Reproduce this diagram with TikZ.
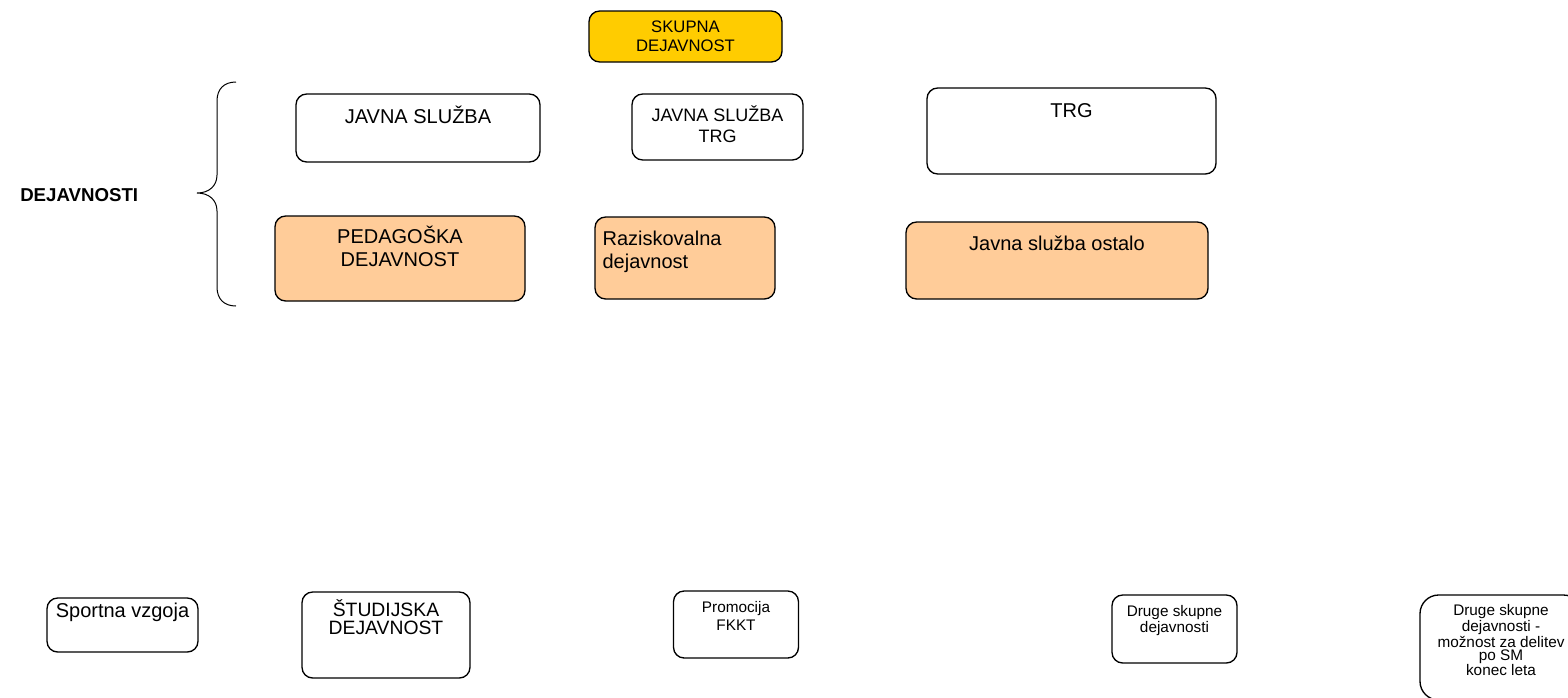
\documentclass[tikz,border=0pt]{standalone}
\usepackage{fontspec}
\setmainfont{Liberation Sans}
\usetikzlibrary{positioning}
\definecolor{skyellow}{HTML}{FFCC00}
\definecolor{pedorange}{HTML}{FFCC99}

\begin{document}
\begin{tikzpicture}[x=0.75pt,y=-0.75pt,
  box/.style={draw,rounded corners=8pt,line width=1pt,inner sep=0pt},
  pedbox/.style={box,fill=pedorange},
  txt/.style={inner sep=0pt,align=center,font=\fontsize{15}{17.25}\selectfont},
  smalltxt/.style={inner sep=0pt,align=center,font=\fontsize{11.5}{12}\selectfont}]
\clip (0,0) rectangle (1568,697);

% Nodes
\node[box,fill=skyellow,minimum width=144.75pt,minimum height=38.25pt,align=center,font=\fontsize{12.5}{14}\selectfont] (sk) at (685.5,36.5) {SKUPNA\\DEJAVNOST};

\node[box,minimum width=183pt,minimum height=51pt] (js) at (418,128) {};
\node[txt,below=9.5pt of js.north] (jstext) {JAVNA SLUŽBA};
\node[box,minimum width=128.25pt,minimum height=49.5pt] (jstrg) at (717.5,127) {};
\node[txt,below=9pt of jstrg.north,font=\fontsize{13.5}{15.5}\selectfont] (jstrgtext) {JAVNA SLUŽBA\\TRG};
\node[box,minimum width=216.75pt,minimum height=64.5pt] (trg) at (1071.5,131) {};
\node[txt,below=12pt of trg.north] (trgtext) {TRG};

\node[pedbox,minimum width=187.5pt,minimum height=63.75pt] (ped) at (400,258.5) {};
\node[txt,below=8pt of ped.north] (pedtext) {PEDAGOŠKA\\DEJAVNOST};
\node[pedbox,minimum width=135pt,minimum height=61.5pt] (raz) at (685,258) {};
\node[txt,align=left,below right=11pt and 6pt of raz.north west] (raztext) {Raziskovalna\\dejavnost};
\node[pedbox,minimum width=226.5pt,minimum height=57.75pt] (jso) at (1057,260.5) {};
\node[txt,below=11pt of jso.north] (jsotext) {Javna služba ostalo};

\node[inner sep=0pt,anchor=west,font=\fontsize{14}{16}\selectfont\bfseries] (dej) at (20,195) {DEJAVNOSTI};

% bottom row
\node[box,minimum width=113.25pt,minimum height=40.5pt] (sport) at (122.5,625) {};
\node[txt,below=4pt of sport.north] (sporttext) {Sportna vzgoja};
\node[box,minimum width=126pt,minimum height=64.5pt] (stud) at (386,635) {};
\node[txt,below=6pt of stud.north,font=\fontsize{14.5}{13.5}\selectfont] (studtext) {ŠTUDIJSKA\\DEJAVNOST};
\node[box,minimum width=93.75pt,minimum height=50.25pt] (promo) at (736,624.5) {};
\node[smalltxt,below=8pt of promo.north,font=\fontsize{11.5}{13.5}\selectfont] (promotext) {Promocija\\FKKT};
\node[box,minimum width=93.75pt,minimum height=51pt] (druge) at (1174.5,629) {};
\node[smalltxt,below=8pt of druge.north] (drugetext) {Druge skupne\\dejavnosti};
\node[box,rounded corners=14pt,minimum width=121.5pt,minimum height=78.75pt] (drugeb) at (1501,647.5) {};
\node[smalltxt,below=7.5pt of drugeb.north,font=\fontsize{11.5}{10}\selectfont] (drugebtext) {Druge skupne\\dejavnosti -\\možnost za delitev\\po SM\\konec leta};

% brace
\draw[line width=0.75pt] (236,82) .. controls (224,82) and (217,89) .. (217,101) -- (217,175)
  .. controls (217,186) and (209,193) .. (197,193) .. controls (209,193) and (217,200) .. (217,211)
  -- (217,287) .. controls (217,299) and (224,306) .. (236,306);
\end{tikzpicture}
\end{document}
